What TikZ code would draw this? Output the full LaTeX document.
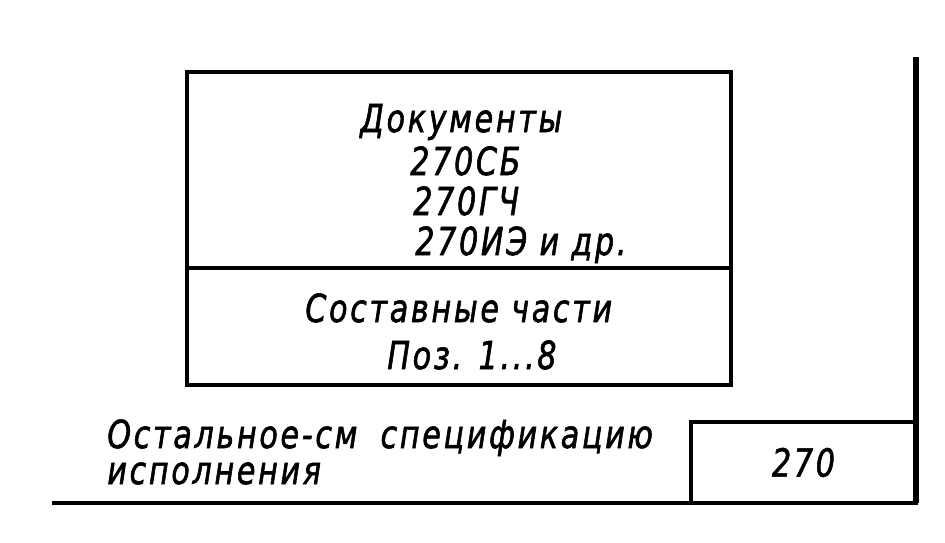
\documentclass[tikz,border=0pt]{standalone}
\usepackage{fontspec}
\setmainfont{DejaVu Sans}[FakeStretch=0.78, LetterSpace=7, FakeBold=1.5]
\usetikzlibrary{positioning}

\begin{document}
\begin{tikzpicture}[
    x=0.02cm, y=-0.02cm,
    cell/.style={
        rectangle, draw=black, line width=2.2pt,
        inner sep=0pt, outer sep=0pt
    },
    txt/.style={
        anchor=base west, inner sep=0pt,
        font=\fontsize{22}{26}\selectfont\itshape
    },
    frame/.style={line width=2.6pt, black}
]
\useasboundingbox (0,0) rectangle (945,542);

% Documents cell
\node[cell, minimum width=10.88cm, minimum height=3.92cm, anchor=north west] (docs) at (187,72) {};
% Parts cell
\node[cell, minimum width=10.88cm, minimum height=2.34cm, anchor=north west] (parts) at (docs.south west) {};

% Texts of the documents cell
\node[txt] (doctitle) at (360,132) {Документы};
\node[txt] (doc1) at (410,175) {270СБ};
\node[txt] (doc2) at (413,215) {270ГЧ};
\node[txt] (doc3) at (415,255) {270ИЭ и др.};

% Texts of the parts cell
\node[txt] (partstitle) at (305,322) {Составные части};
\node[txt] (partsnum) at (387,369) {Поз. 1...8};

% Remark
\node[txt] (rest1) at (107,448) {Остальное-см\hspace{0.6em}спецификацию};
\node[txt] (rest2) at (107,484) {исполнения};

% Version box
\node[cell, minimum width=4.5cm, minimum height=1.62cm, anchor=north west] (ver) at (691,422) {};
\node[txt, anchor=center] (vertext) at (ver.center) {270};

% Frame lines
\coordinate (top) at (916,57);
\coordinate (corner) at (916,503);
\coordinate (left) at (52,503);
\draw[frame, line width=3pt] (top) -- (corner);
\draw[frame, line width=2pt] (left) -- (corner);
\end{tikzpicture}
\end{document}
